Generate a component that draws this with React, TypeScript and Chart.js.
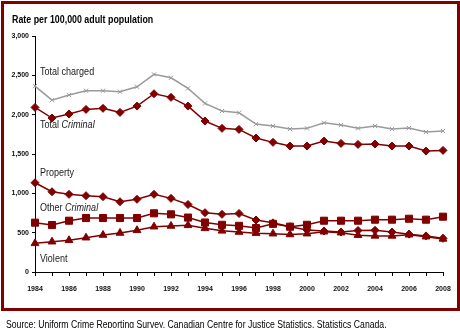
import React, { useEffect, useRef } from "react";
import { Chart, registerables } from "chart.js";

Chart.register(...registerables);

const years = ["1984","1985","1986","1987","1988","1989","1990","1991","1992","1993","1994","1995","1996","1997","1998","1999","2000","2001","2002","2003","2004","2005","2006","2007","2008"];
const totalCharged = [2363,2185,2249,2304,2304,2291,2355,2512,2469,2334,2143,2046,2024,1880,1855,1817,1826,1897,1868,1826,1855,1817,1830,1779,1792];
const totalCriminal = [2092,1957,2008,2067,2080,2029,2109,2266,2220,2109,1919,1826,1813,1703,1648,1601,1601,1665,1635,1622,1626,1601,1601,1537,1546];
const property = [1135,1020,987,970,957,893,924,987,936,858,754,733,744,661,625,576,535,521,508,528,530,508,481,459,428];
const otherCriminal = [627,597,652,686,686,686,686,746,733,692,629,600,587,559,612,576,600,652,652,652,665,665,677,665,703];
const violent = [364,385,403,436,470,496,530,576,585,593,555,523,508,494,487,477,487,512,500,468,459,459,474,449,421];
const yTicks = [0, 500, 1000, 1500, 2000, 2500, 3000];

// in-chart series labels: [plain part, italic part, value for baseline]
const seriesLabels: [string, string, number][] = [
  ["Total charged", "", 2503],
  ["Total ", "Criminal", 1836],
  ["Property", "", 1220],
  ["Other ", "Criminal", 779],
  ["Violent", "", 127],
];

const RED = "#800000";
const GRAY = "#9a9a9a";
const FONT = "'Liberation Sans', Arial, sans-serif";
const SQUEEZE = 0.82;

const labelPlugin = {
  id: "seriesLabels",
  afterDraw(chart: any) {
    const ctx = chart.ctx;
    const xs = chart.scales.x;
    const ys = chart.scales.y;
    const x0 = xs.getPixelForValue(0) + 5;
    ctx.save();
    ctx.fillStyle = "#1a1a1a";
    ctx.textBaseline = "alphabetic";
    ctx.textAlign = "left";
    for (const [plain, ital, v] of seriesLabels) {
      const y = ys.getPixelForValue(v);
      ctx.save();
      ctx.translate(x0, y);
      ctx.scale(SQUEEZE, 1);
      ctx.font = `11px ${FONT}`;
      ctx.fillText(plain, 0, 0);
      const w = ctx.measureText(plain).width;
      if (ital) {
        ctx.font = `italic 11px ${FONT}`;
        ctx.fillText(ital, w, 0);
      }
      ctx.restore();
    }
    ctx.restore();
  },
};

export default function App() {
  const ref = useRef<HTMLCanvasElement>(null);
  useEffect(() => {
    document.body.style.margin = "0";
    document.body.style.overflow = "hidden";
    const mk = (data: number[], color: string, style: any, radius: number, extra: any = {}) => ({
      data,
      borderColor: color,
      backgroundColor: color,
      pointBackgroundColor: color,
      pointBorderColor: color,
      pointStyle: style,
      pointRadius: radius,
      borderWidth: 1.5,
      pointBorderWidth: 1,
      tension: 0,
      ...extra,
    });
    const chart = new Chart(ref.current!, {
      type: "line",
      data: {
        labels: years,
        datasets: [
          mk(totalCharged, GRAY, "crossRot", 3),
          mk(totalCriminal, RED, "rectRot", 4),
          mk(property, RED, "rectRot", 4),
          mk(otherCriminal, RED, "rect", 5),
          mk(violent, RED, "triangle", 4.5),
        ],
      },
      plugins: [labelPlugin],
      options: {
        animation: false,
        responsive: false,
        maintainAspectRatio: false,
        layout: { padding: { top: 36, right: 17, left: 0, bottom: 0 } },
        plugins: { legend: { display: false }, tooltip: { enabled: false }, title: { display: false } },
        scales: {
          x: {
            type: "category",
            offset: false,
            afterFit: (s: any) => { s.height = 56; },
            border: { display: true, color: "#000", width: 1 },
            grid: { display: true, drawOnChartArea: false, drawTicks: true, tickLength: 4, color: "#000" },
            ticks: {
              autoSkip: false,
              maxRotation: 0,
              padding: 9,
              color: "#111",
              font: { family: FONT, size: 7, weight: "bold" },
              callback: (_v: any, i: number) => (i % 2 === 0 ? years[i] : ""),
            },
          },
          y: {
            min: 0,
            max: 3000,
            afterFit: (s: any) => { s.width = 35; },
            afterBuildTicks: (s: any) => { s.ticks = yTicks.map((v) => ({ value: v })); },
            border: { display: true, color: "#000", width: 1 },
            grid: { display: true, drawOnChartArea: false, drawTicks: true, tickLength: 3, color: "#000" },
            ticks: {
              padding: 3,
              color: "#111",
              font: { family: FONT, size: 7, weight: "bold" },
              callback: (v: any) => Number(v).toLocaleString("en-US"),
            },
          },
        },
      },
    });
    return () => chart.destroy();
  }, []);

  return (
    <div style={{ position: "fixed", left: 0, top: 0, width: 460, height: 328, overflow: "hidden", background: "#fff" }}>
      <canvas ref={ref} width={460} height={328} style={{ position: "absolute", left: 0, top: 0, width: 460, height: 328 }} />
      <div style={{ position: "absolute", left: 1, top: 1, width: 459, height: 310, boxSizing: "border-box", border: `3px solid ${RED}`, pointerEvents: "none" }} />
      <div style={{ position: "absolute", left: 12, top: 14, font: `bold 11.5px ${FONT}`, lineHeight: "11px", color: "#000", whiteSpace: "nowrap", transform: "scaleX(0.77)", transformOrigin: "0 0" }}>
        Rate per 100,000 adult population
      </div>
      <div style={{ position: "absolute", left: 6, top: 320, font: `10px ${FONT}`, lineHeight: "10px", color: "#000", whiteSpace: "nowrap", transform: "scaleX(0.866)", transformOrigin: "0 0" }}>
        Source: Uniform Crime Reporting Survey, Canadian Centre for Justice Statistics, Statistics Canada.
      </div>
    </div>
  );
}
